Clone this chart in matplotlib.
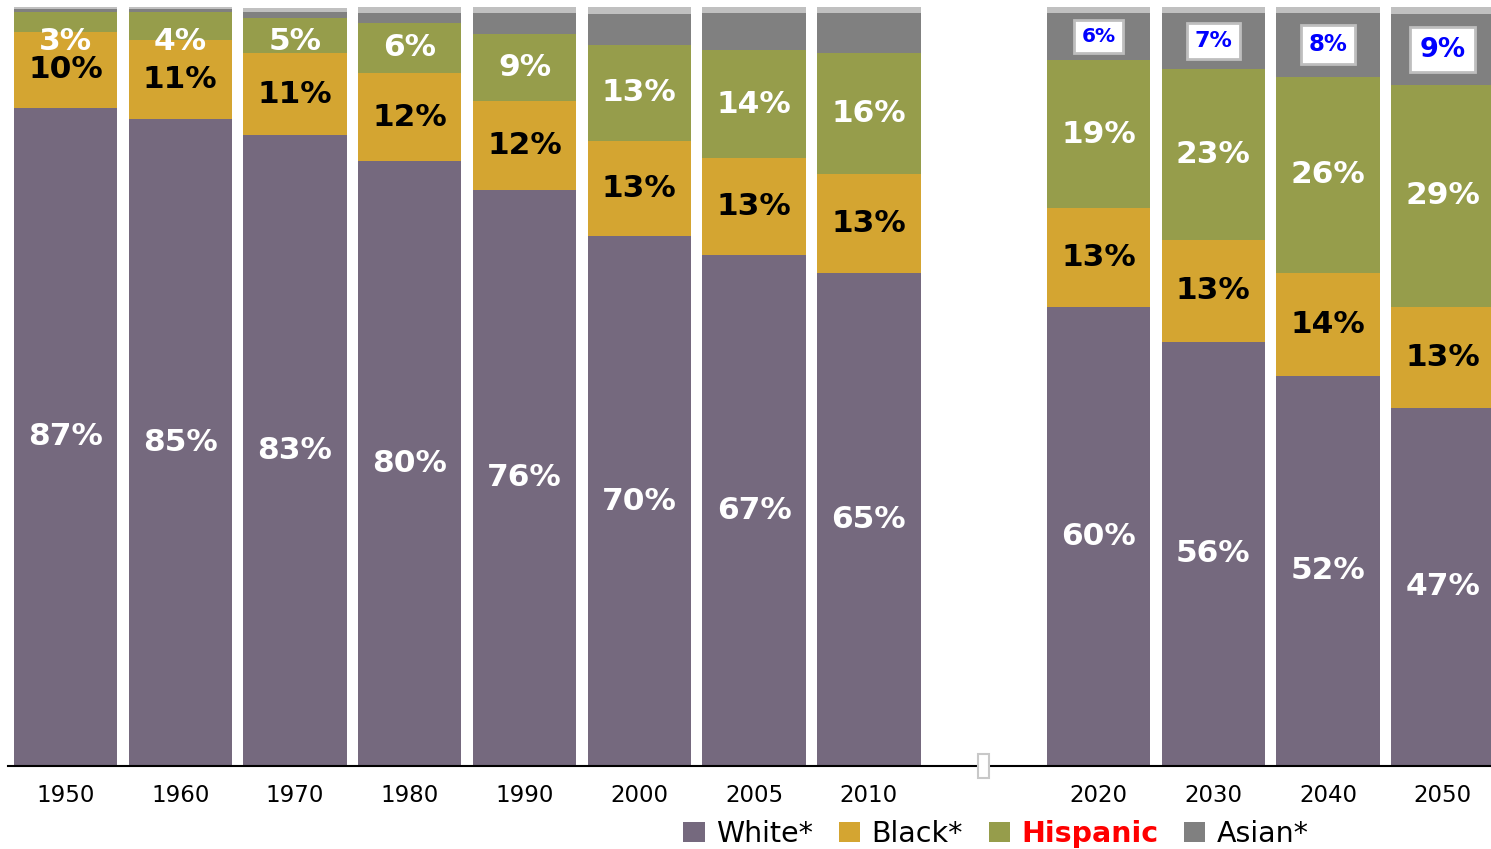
import matplotlib
matplotlib.use("Agg")
import matplotlib.pyplot as plt
import numpy as np

plt.rcParams['font.family'] = ['DejaVu Sans']

# Share of population by group (segment heights, %)
years = ['1950', '1960', '1970', '1980', '1990', '2000', '2005', '2010',
         '', '2020', '2030', '2040', '2050']
white = [86.7, 85.2, 83.1, 79.7, 75.9, 69.8, 67.3, 65.0, 0, 60.5, 55.9, 51.4, 47.2]
black = [10.0, 10.5, 10.8, 11.6, 11.7, 12.6, 12.8, 13.0, 0, 13.0, 13.4, 13.6, 13.3]
hispanic = [2.6, 3.6, 4.6, 6.6, 8.8, 12.6, 14.2, 15.9, 0, 19.5, 22.5, 25.8, 29.2]
asian = [0.4, 0.4, 0.9, 1.3, 2.8, 4.1, 4.9, 5.3, 0, 6.2, 7.4, 8.4, 9.4]
other = [0.3, 0.3, 0.5, 0.8, 0.8, 0.9, 0.8, 0.8, 0, 0.8, 0.8, 0.8, 0.9]

# printed labels
white_lbl = [87, 85, 83, 80, 76, 70, 67, 65, None, 60, 56, 52, 47]
black_lbl = [10, 11, 11, 12, 12, 13, 13, 13, None, 13, 13, 14, 13]
hisp_lbl = [3, 4, 5, 6, 9, 13, 14, 16, None, 19, 23, 26, 29]
asian_lbl = [None] * 9 + [6, 7, 8, 9]
asian_size = [None] * 9 + [14.5, 16, 16.5, 19.5]

c_white = '#75697E'
c_black = '#D4A531'
c_hisp = '#969D4B'
c_asian = '#808080'
c_other = '#C0C0C0'

x = np.arange(len(years))
w = np.array(white)
b = np.array(black)
h = np.array(hispanic)
a = np.array(asian)
o = np.array(other)

fig = plt.figure(figsize=(14.91, 8.49), dpi=100)
ax = fig.add_axes([8/1491, 83/849, 1 - 8/1491, (766 - 7)/849])

bw = 0.9
ax.bar(x, w, width=bw, color=c_white, label='White*')
ax.bar(x, b, bottom=w, width=bw, color=c_black, label='Black*')
ax.bar(x, h, bottom=w + b, width=bw, color=c_hisp, label='Hispanic')
ax.bar(x, a, bottom=w + b + h, width=bw, color=c_asian, label='Asian*')
ax.bar(x, o, bottom=w + b + h + a, width=bw, color=c_other, label='_nolegend_')

lbl_kw = dict(ha='center', va='center', fontweight='bold', fontsize=22.5)
for i in x:
    if white_lbl[i] is None:
        continue
    ax.text(i, w[i] / 2, f'{white_lbl[i]}%', color='white', **lbl_kw)
    ax.text(i, w[i] + b[i] / 2, f'{black_lbl[i]}%', color='black', **lbl_kw)
    hy = min(w[i] + b[i] + h[i] / 2, 95.5)
    ax.text(i, hy, f'{hisp_lbl[i]}%', color='white', **lbl_kw)
    if asian_lbl[i] is not None:
        ay = w[i] + b[i] + h[i] + a[i] / 2
        ax.text(i, ay, f'{asian_lbl[i]}%', color='#0000FF', ha='center', va='center',
                fontweight='bold', fontsize=asian_size[i],
                bbox=dict(boxstyle='square,pad=0.35', fc='white', ec='#BEBEBE', lw=2))

# empty placeholder box in the gap
ax.text(8, 0, ' ', ha='center', va='center', fontsize=16,
        bbox=dict(boxstyle='square,pad=0.1', fc='white', ec='#C8C8C8', lw=1.5))

ax.set_xlim(-0.5, 12.42)
ax.set_ylim(0, 100)
ax.set_xticks(x)
ax.set_xticklabels(years, fontsize=16.5)
ax.tick_params(axis='x', length=0, pad=13)
ax.set_yticks([])
for s in ['top', 'right', 'left']:
    ax.spines[s].set_visible(False)
ax.spines['bottom'].set_linewidth(1.5)

leg = fig.legend(loc='center', bbox_to_anchor=(996/1491, 15/849), ncol=4,
                 frameon=False, fontsize=20.5, handlelength=0.75, handleheight=0.75,
                 handletextpad=0.4, columnspacing=0.9)
for t in leg.get_texts():
    if t.get_text() == 'Hispanic':
        t.set_color('#FF0000')
        t.set_fontweight('bold')

fig.savefig('out.png', dpi=100)
